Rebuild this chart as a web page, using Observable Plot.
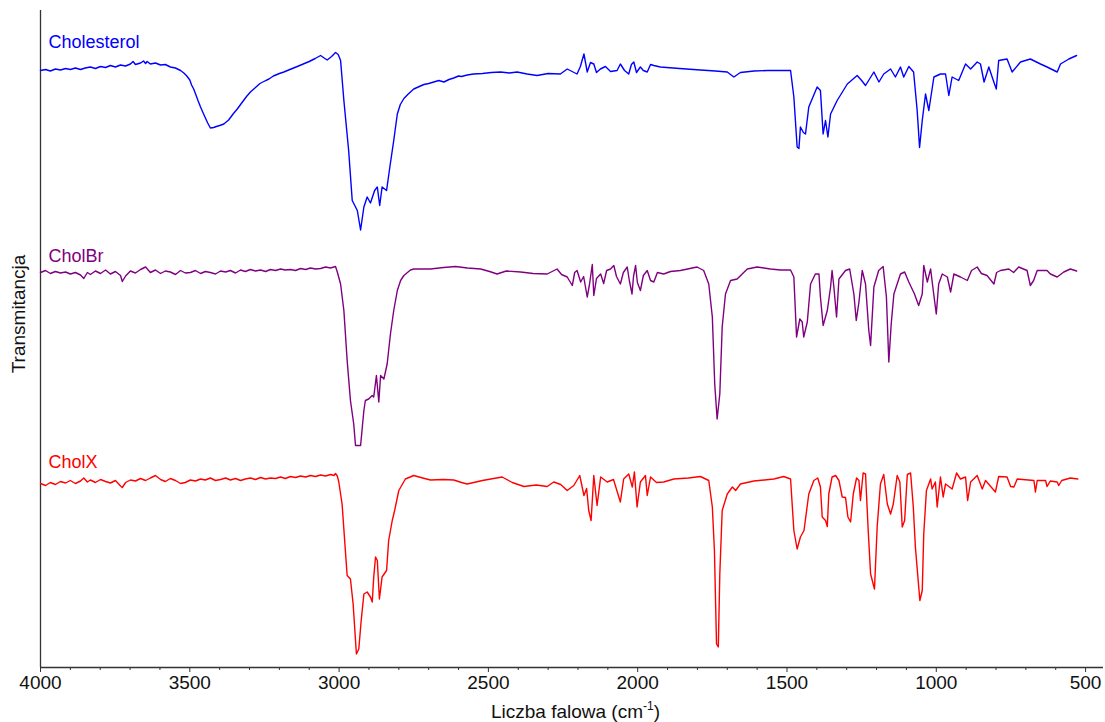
<!DOCTYPE html>
<html>
<head>
<meta charset="utf-8">
<script src="https://cdn.jsdelivr.net/npm/d3@7"></script>
<script src="https://cdn.jsdelivr.net/npm/@observablehq/plot@0.6"></script>
<style>
  body { margin: 0; background: #fff; }
</style>
</head>
<body>
<div id="chart"></div>
<script>
// FTIR spectra: [wavenumber cm^-1, transmittance (offset, a.u.)]
const cholesterol = [
  [4000,119.4],[3983,119.6],[3967,119.3],[3950,119.7],[3933,119.5],[3916,119.8],[3900,119.6],[3883,119.9],
  [3866,119.6],[3850,119.9],[3833,120.1],[3816,119.8],[3799,120.2],[3782,120.0],[3766,120.4],[3749,120.1],
  [3732,120.5],[3715,120.3],[3699,120.7],[3690,121.2],[3682,120.6],[3665,120.9],[3655,121.3],[3648,120.8],
  [3643,121.2],[3632,120.7],[3615,120.9],[3598,120.5],[3582,120.6],[3565,120.1],[3548,119.9],[3531,119.4],
  [3520,118.9],[3510,118.3],[3500,117.5],[3494,116.5],[3487,115.7],[3480,114.6],[3472,113.3],[3464,112.1],
  [3456,111.0],[3447,109.8],[3440,108.9],[3431,107.9],[3420,108.0],[3411,108.2],[3400,108.4],[3386,108.7],
  [3370,109.5],[3355,110.7],[3341,111.7],[3325,113.0],[3310,114.2],[3297,115.1],[3280,116.0],[3265,116.8],
  [3252,117.2],[3235,117.7],[3220,118.3],[3200,118.8],[3185,119.1],[3165,119.6],[3140,120.2],[3120,120.7],
  [3100,121.2],[3080,121.8],[3062,122.4],[3050,121.9],[3040,121.5],[3025,122.2],[3012,123.0],[3003,122.6],
  [2995,121.4],[2984,113.4],[2968,103.4],[2956,93.4],[2939,91.4],[2928,87.5],[2917,92.1],[2906,94.1],
  [2895,92.9],[2881,95.4],[2872,96.1],[2864,92.4],[2856,96.1],[2841,95.4],[2830,100.1],[2817,105.4],
  [2805,110.7],[2795,112.6],[2783,113.8],[2770,114.6],[2750,115.7],[2735,116.1],[2716,116.6],[2700,116.8],
  [2683,117.1],[2666,117.4],[2649,117.1],[2632,117.6],[2616,117.9],[2600,118.3],[2590,118.2],[2571,118.5],
  [2550,118.7],[2520,118.8],[2490,119.0],[2459,119.1],[2430,118.9],[2404,119.1],[2370,118.7],[2337,118.4],
  [2300,118.8],[2259,118.7],[2236,119.7],[2203,118.7],[2192,120.2],[2180,122.7],[2169,119.1],[2158,121.0],
  [2147,120.7],[2138,119.0],[2125,119.7],[2108,120.2],[2091,119.2],[2069,119.4],[2058,120.7],[2044,119.4],
  [2030,118.7],[2021,120.6],[2013,121.1],[2004,119.0],[1991,120.1],[1981,119.4],[1968,119.1],[1957,120.6],
  [1946,120.4],[1924,120.1],[1860,119.8],[1790,119.5],[1740,119.3],[1700,119.1],[1678,118.1],[1656,119.0],
  [1610,119.3],[1566,119.4],[1488,119.4],[1477,114.1],[1466,104.1],[1460,103.8],[1455,108.1],[1445,107.0],
  [1438,106.7],[1427,112.1],[1399,116.1],[1388,115.4],[1379,106.7],[1371,109.4],[1363,106.1],[1354,110.7],
  [1332,113.4],[1298,116.7],[1265,118.4],[1250,117.4],[1237,116.4],[1209,119.1],[1192,117.1],[1176,118.7],
  [1153,119.7],[1137,118.1],[1120,120.1],[1109,118.1],[1092,120.2],[1076,119.1],[1064,111.4],[1056,104.0],
  [1047,109.4],[1036,114.7],[1025,111.4],[1008,118.1],[986,118.7],[969,118.7],[958,114.4],[947,118.1],
  [925,117.4],[902,120.7],[885,119.7],[863,121.1],[852,120.7],[840,117.1],[824,120.1],[809,117.4],
  [799,115.7],[791,121.4],[763,121.7],[746,119.1],[718,121.1],[685,121.7],[651,120.7],[629,120.1],
  [595,119.1],[584,120.7],[556,121.7],[530,122.4]
];

const cholBr = [
  [4000,79.0],[3983,79.4],[3967,78.8],[3950,79.2],[3933,78.9],[3916,79.1],[3900,78.7],[3883,79.0],
  [3866,78.5],[3855,77.8],[3843,79.0],[3833,78.6],[3816,79.3],[3799,78.8],[3782,79.5],[3766,78.7],
  [3749,79.2],[3732,78.4],[3726,77.2],[3715,78.3],[3699,79.3],[3682,78.9],[3665,79.6],[3648,80.1],
  [3632,79.0],[3615,79.5],[3598,78.8],[3582,79.3],[3565,79.1],[3548,78.6],[3531,79.4],[3515,78.9],
  [3498,79.0],[3481,79.4],[3464,78.8],[3448,79.2],[3431,79.0],[3414,78.7],[3397,79.3],[3380,79.1],
  [3364,79.4],[3347,78.9],[3330,79.5],[3314,79.2],[3297,79.6],[3280,79.3],[3263,79.5],[3246,79.2],
  [3230,79.6],[3213,79.4],[3196,79.7],[3180,79.5],[3163,79.6],[3146,79.4],[3129,79.8],[3112,79.6],
  [3096,79.9],[3079,79.7],[3062,79.8],[3045,80.1],[3029,79.9],[3012,80.2],[3006,79.1],[2995,76.7],
  [2984,71.4],[2973,61.4],[2962,53.4],[2951,48.7],[2945,44.4],[2928,44.4],[2917,51.4],[2912,53.4],
  [2901,53.7],[2889,54.4],[2884,54.1],[2875,58.4],[2867,53.1],[2861,58.4],[2850,57.7],[2839,60.7],
  [2828,66.7],[2817,71.4],[2805,75.4],[2794,77.4],[2783,78.4],[2761,79.5],[2750,79.7],[2694,79.7],
  [2650,80.0],[2610,80.2],[2570,79.9],[2526,79.7],[2496,79.2],[2471,78.7],[2440,79.3],[2392,79.1],
  [2350,78.8],[2303,78.7],[2270,79.7],[2255,78.6],[2236,78.1],[2219,76.4],[2211,79.0],[2203,79.4],
  [2191,77.1],[2181,78.2],[2169,74.1],[2162,76.4],[2152,80.6],[2147,74.4],[2138,77.8],[2124,78.7],
  [2114,76.8],[2104,79.4],[2091,79.7],[2080,80.4],[2071,78.2],[2058,76.7],[2048,79.0],[2035,80.1],
  [2028,77.4],[2019,74.7],[2014,78.2],[2007,80.4],[2001,77.0],[1991,75.4],[1981,78.4],[1968,79.4],
  [1957,77.4],[1946,77.1],[1934,79.0],[1913,78.7],[1890,79.2],[1857,79.4],[1801,80.1],[1779,79.4],
  [1762,76.7],[1750,70.1],[1742,56.7],[1734,49.7],[1725,54.7],[1717,68.1],[1706,74.7],[1689,77.4],
  [1667,77.7],[1633,79.7],[1600,80.1],[1555,79.7],[1522,79.5],[1488,79.5],[1477,78.1],[1468,66.1],
  [1457,69.7],[1449,69.1],[1444,66.1],[1432,69.1],[1421,76.7],[1405,78.7],[1393,78.7],[1388,74.1],
  [1379,68.4],[1365,71.4],[1354,76.1],[1349,79.4],[1343,76.1],[1334,70.1],[1326,77.7],[1304,79.4],
  [1290,79.7],[1276,74.7],[1268,69.4],[1259,73.1],[1248,79.4],[1237,76.7],[1226,67.4],[1220,64.4],
  [1209,76.1],[1193,79.4],[1178,80.2],[1167,74.1],[1159,61.1],[1151,68.7],[1142,74.7],[1120,78.7],
  [1106,79.1],[1092,77.1],[1073,74.7],[1059,72.4],[1047,74.7],[1042,80.4],[1030,77.1],[1019,79.7],
  [1008,74.4],[1000,70.7],[992,76.7],[980,78.7],[963,78.1],[952,75.1],[941,78.7],[919,78.1],
  [896,77.4],[882,79.4],[863,80.1],[849,78.8],[830,78.4],[807,76.7],[798,79.0],[785,79.4],
  [757,79.7],[741,79.0],[724,80.1],[696,79.4],[685,76.4],[674,77.4],[662,79.4],[629,79.4],
  [618,78.7],[595,78.1],[573,79.1],[551,79.7],[530,79.3]
];

const cholX = [
  [4000,36.8],[3983,36.4],[3967,37.0],[3950,36.6],[3933,37.2],[3916,36.9],[3900,37.4],[3883,36.8],
  [3866,37.3],[3855,37.9],[3843,37.1],[3833,37.5],[3816,37.0],[3799,37.6],[3782,37.2],[3766,36.9],
  [3749,37.4],[3732,36.3],[3726,36.0],[3715,37.0],[3699,37.5],[3682,37.3],[3665,37.8],[3648,37.4],
  [3632,37.9],[3615,38.4],[3598,37.6],[3582,37.2],[3565,37.8],[3548,37.4],[3531,36.8],[3515,37.0],
  [3498,37.5],[3481,37.3],[3464,37.7],[3448,37.5],[3431,37.9],[3414,37.4],[3397,37.6],[3380,37.9],
  [3364,37.5],[3347,37.8],[3330,37.4],[3314,37.7],[3297,37.9],[3280,37.6],[3263,38.0],[3246,37.7],
  [3230,37.9],[3213,37.8],[3196,38.1],[3180,37.8],[3163,38.2],[3146,38.0],[3129,38.3],[3112,38.1],
  [3096,38.4],[3079,38.2],[3062,38.5],[3045,38.3],[3029,38.6],[3017,38.4],[3012,38.8],[3006,38.3],
  [3001,37.1],[2990,32.7],[2979,23.4],[2973,18.4],[2962,17.7],[2953,12.7],[2942,2.7],[2934,3.7],
  [2926,9.4],[2917,14.7],[2906,15.1],[2895,14.1],[2889,13.1],[2884,18.1],[2878,22.1],[2872,21.4],
  [2865,13.7],[2856,18.1],[2841,19.4],[2834,25.4],[2822,29.4],[2814,31.4],[2800,35.4],[2778,37.7],
  [2750,38.4],[2720,37.9],[2694,37.5],[2650,37.6],[2616,37.5],[2590,37.0],[2571,36.7],[2520,37.4],
  [2454,38.1],[2420,37.0],[2381,36.2],[2340,36.5],[2303,36.2],[2281,37.1],[2258,36.6],[2236,35.4],
  [2214,36.4],[2194,38.4],[2180,34.4],[2171,35.8],[2164,31.4],[2156,29.4],[2147,38.4],[2136,32.4],
  [2124,38.1],[2102,37.1],[2081,37.6],[2058,33.1],[2047,37.7],[2030,38.7],[2018,36.1],[2011,39.1],
  [2002,32.1],[1991,37.1],[1974,38.4],[1968,34.4],[1957,38.1],[1937,37.0],[1913,37.1],[1879,37.7],
  [1830,37.9],[1790,38.2],[1762,37.4],[1750,32.1],[1743,23.4],[1736,4.7],[1730,4.1],[1725,18.7],
  [1717,31.4],[1700,34.7],[1683,36.1],[1672,35.4],[1656,36.7],[1611,37.3],[1544,37.7],[1511,38.2],
  [1488,37.7],[1477,27.4],[1466,23.7],[1455,26.1],[1443,27.4],[1427,34.7],[1410,37.4],[1397,37.9],
  [1388,36.1],[1382,30.1],[1371,29.4],[1365,28.2],[1360,34.7],[1349,38.1],[1337,38.4],[1326,37.4],
  [1315,34.1],[1304,34.0],[1296,30.1],[1287,29.1],[1278,34.7],[1267,37.9],[1259,37.4],[1254,33.4],
  [1245,38.9],[1237,38.7],[1228,27.4],[1220,18.7],[1207,15.7],[1198,28.1],[1187,36.7],[1176,38.6],
  [1164,32.7],[1153,30.7],[1144,32.7],[1131,38.4],[1122,37.1],[1114,28.1],[1106,29.4],[1097,38.6],
  [1086,38.9],[1077,32.1],[1070,24.1],[1055,13.4],[1047,15.4],[1042,26.7],[1033,35.4],[1019,37.7],
  [1014,35.7],[1003,37.1],[997,32.1],[986,38.1],[977,34.1],[969,36.7],[947,35.7],[932,38.9],
  [919,37.7],[902,38.1],[895,33.4],[885,37.1],[863,38.4],[846,35.7],[835,37.4],[802,35.1],
  [791,38.2],[763,38.1],[751,36.2],[740,36.1],[729,37.7],[673,37.4],[668,35.1],[662,37.4],
  [634,37.4],[629,36.2],[618,37.3],[595,37.1],[590,36.4],[580,37.4],[551,37.9],[526,37.7]
];

const seriesNames = ["Cholesterol", "CholBr", "CholX"];
const seriesColors = ["#0000ff", "#800080", "#ff0000"];
const seriesLabelLevel = [124.0, 81.2, 40.0];
const majorTicks = [4000, 3500, 3000, 2500, 2000, 1500, 1000, 500];
const minorTicks = [3900, 3800, 3700, 3600, 3400, 3300, 3200, 3100, 2900, 2800, 2700, 2600,
  2400, 2300, 2200, 2100, 1900, 1800, 1700, 1600, 1400, 1300, 1200, 1100, 900, 800, 700, 600];

const rows = [cholesterol, cholBr, cholX].flatMap((s, i) =>
  s.map(([w, t]) => ({series: seriesNames[i], w, t}))
);
const labels = seriesNames.map((name, i) => ({name, w: 3973, t: seriesLabelLevel[i]}));

const font = "'Liberation Sans', Arial, Helvetica, sans-serif";
const axisColor = "#333";

const chart = Plot.plot({
  width: 1105,
  height: 722,
  marginLeft: 40,
  marginRight: 2,
  marginTop: 10,
  marginBottom: 55,
  style: {fontFamily: font, fontSize: "19px", background: "#fff", color: "#111"},
  x: {domain: [4000, 440]},
  y: {domain: [0, 131.4], axis: null},
  color: {domain: seriesNames, range: seriesColors},
  marks: [
    Plot.axisX({ticks: minorTicks, tickSize: 3, tickFormat: () => "", label: null, stroke: axisColor}),
    Plot.axisX({ticks: majorTicks, tickSize: 5, tickPadding: 3, tickFormat: d => String(d),
      label: null, stroke: axisColor, fontSize: 19}),
    Plot.ruleY([0], {stroke: axisColor, strokeWidth: 1.3}),
    Plot.ruleX([4000], {stroke: axisColor, strokeWidth: 1.3}),
    Plot.line(rows, {x: "w", y: "t", z: "series", stroke: "series", strokeWidth: 1.4, curve: "linear"}),
    Plot.text(labels, {x: "w", y: "t", text: "name", fill: "name", textAnchor: "start",
      lineAnchor: "bottom", fontSize: 18}),
    Plot.text(["Transmitancja"], {text: d => d, frameAnchor: "left", textAnchor: "middle",
      rotate: -90, dx: -22, dy: -25, fontSize: 19, fill: "#111"})
  ]
});

// x-axis title with superscript unit
const [x0, x1] = chart.scale("x").range;
const title = d3.select(chart).append("text")
  .attr("x", (x0 + x1) / 2 + 4)
  .attr("y", 718)
  .attr("text-anchor", "middle")
  .attr("font-size", 19)
  .attr("font-family", font)
  .attr("fill", "#111");
title.append("tspan").text("Liczba falowa (cm");
title.append("tspan").attr("dy", -8).attr("font-size", 12).text("-1");
title.append("tspan").attr("dy", 8).text(")");

document.getElementById("chart").appendChild(chart);
</script>
</body>
</html>
